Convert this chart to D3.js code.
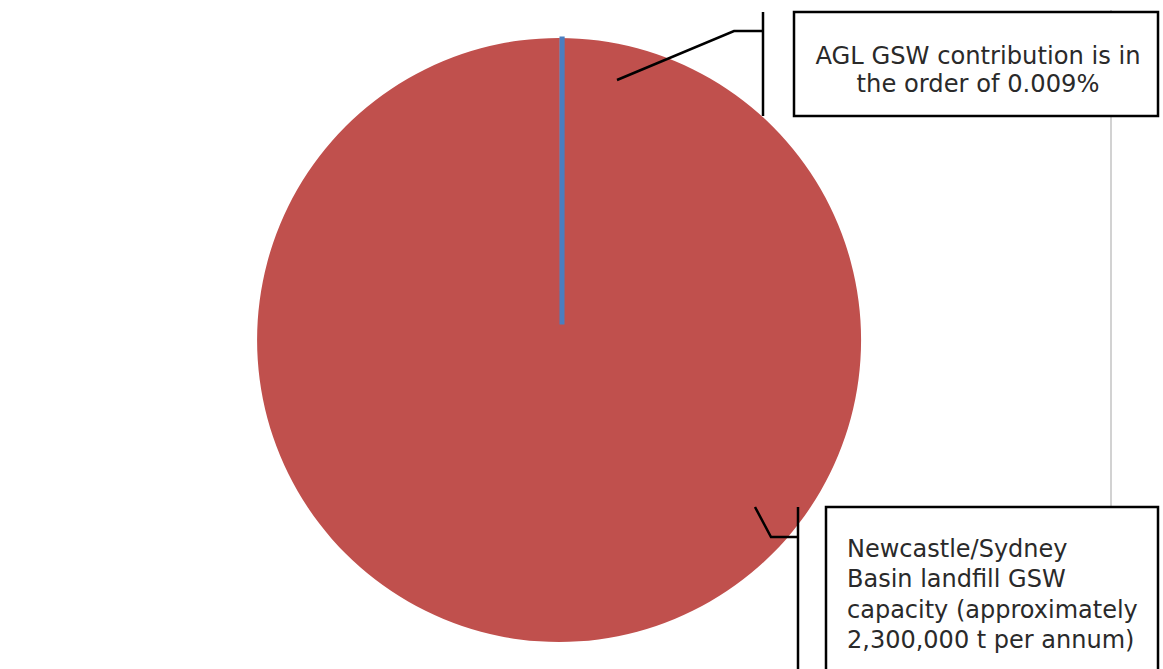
<!DOCTYPE html>
<html>
<head>
<meta charset="utf-8">
<script src="https://cdn.jsdelivr.net/npm/d3@7"></script>
<style>
  html, body { margin: 0; padding: 0; background: #ffffff; }
  svg { display: block; }
</style>
</head>
<body>
<svg id="chart" width="1163" height="669"></svg>
<script>
// ---- data ----
const categories = ["AGL GSW contribution", "Newcastle/Sydney Basin landfill GSW capacity"];
const values = [207, 2300000]; // t per annum (0.009% vs approx 2,300,000 t)
const colors = ["#4A7EC0", "#C0504D"];
const calloutTop = ["AGL GSW contribution is in", "the order of 0.009%"];
const calloutBottom = ["Newcastle/Sydney", "Basin landfill GSW", "capacity (approximately", "2,300,000 t per annum)"];

const svg = d3.select("#chart");
const cx = 559, cy = 340, r = 302;

// faint vertical divider line (chart area border)
svg.append("line")
  .attr("x1", 1111).attr("x2", 1111).attr("y1", 10).attr("y2", 508)
  .attr("stroke", "#d2d2d2").attr("stroke-width", 2);

const pie = d3.pie().sort(null).value(d => d.v).startAngle(0).endAngle(2 * Math.PI);
const arcs = pie(categories.map((c, i) => ({ c, v: values[i], color: colors[i] })));
const arc = d3.arc().innerRadius(0).outerRadius(r);

const g = svg.append("g").attr("transform", `translate(${cx},${cy})`);
g.selectAll("path.big")
  .data([arcs[1]])
  .join("path")
  .attr("class", "big")
  .attr("d", arc)
  .attr("fill", d => d.data.color);

g.selectAll("path.small")
  .data([arcs[0]])
  .join("path")
  .attr("class", "small")
  .attr("d", d3.arc().innerRadius(r * 0.06).outerRadius(r - 1))
  .attr("fill", d => d.data.color)
  .attr("stroke", d => d.data.color)
  .attr("stroke-width", 5)
  .attr("stroke-linecap", "butt")
  .attr("transform", "translate(3,0)");

// ---- top callout ----
const lineStyle = s => s.attr("fill", "none").attr("stroke", "#000").attr("stroke-width", 2.5);
svg.append("polyline")
  .attr("points", "617,80 734,31 763,31")
  .call(lineStyle);
svg.append("line").attr("x1", 763).attr("x2", 763).attr("y1", 12).attr("y2", 116).call(lineStyle);

svg.append("rect")
  .attr("x", 794).attr("y", 12).attr("width", 364).attr("height", 104)
  .attr("fill", "#fff").attr("stroke", "#000").attr("stroke-width", 2.5);

const font = "'DejaVu Sans', sans-serif";
svg.append("g").selectAll("text")
  .data(calloutTop)
  .join("text")
  .attr("x", 978)
  .attr("y", (d, i) => 64 + i * 28)
  .attr("text-anchor", "middle")
  .attr("font-family", font)
  .attr("font-size", 24.2)
  .attr("fill", "#2a2a2a")
  .text(d => d);

// ---- bottom callout ----
svg.append("polyline")
  .attr("points", "755,507 771,537 798,537")
  .call(lineStyle);
svg.append("line").attr("x1", 798).attr("x2", 798).attr("y1", 507).attr("y2", 669).call(lineStyle);

svg.append("rect")
  .attr("x", 826).attr("y", 507).attr("width", 332).attr("height", 180)
  .attr("fill", "#fff").attr("stroke", "#000").attr("stroke-width", 2.5);

svg.append("g").selectAll("text")
  .data(calloutBottom)
  .join("text")
  .attr("x", 847)
  .attr("y", (d, i) => 557 + i * 30.3)
  .attr("font-family", font)
  .attr("font-size", 24)
  .attr("fill", "#2a2a2a")
  .text(d => d);
</script>
</body>
</html>
